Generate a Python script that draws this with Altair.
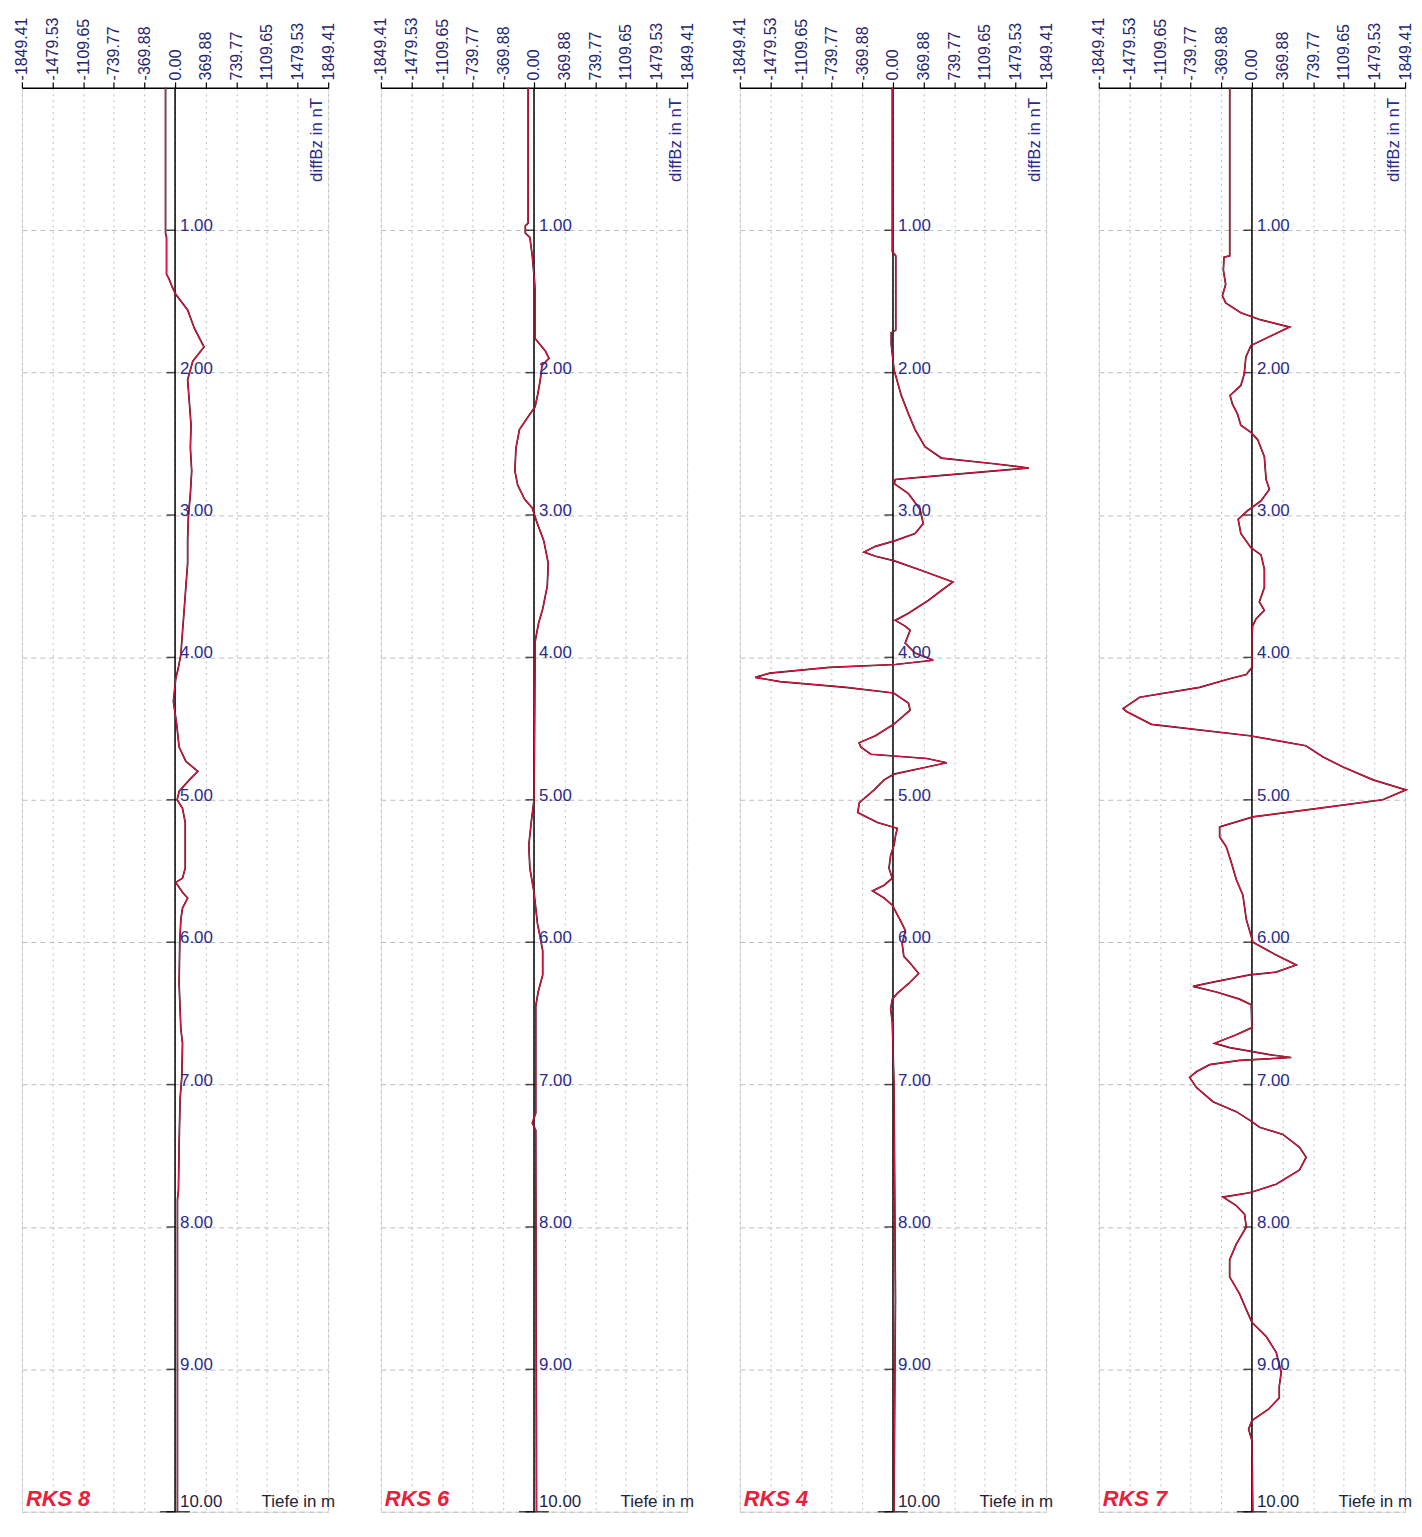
import altair as alt
import pandas as pd

# ---------------- data ----------------
x_ticks = [-1849.41, -1479.53, -1109.65, -739.77, -369.88, 0.0,
           369.88, 739.77, 1109.65, 1479.53, 1849.41]
depth_ticks = [1, 2, 3, 4, 5, 6, 7, 8, 9, 10]
depth_labels = ["1.00", "2.00", "3.00", "4.00", "5.00", "6.00", "7.00", "8.00", "9.00", "10.00"]
panel_names = ["RKS 8", "RKS 6", "RKS 4", "RKS 7"]

rks8_depth = [0, 1.02, 1.05, 1.31, 1.34, 1.40, 1.45, 1.56, 1.69, 1.82, 1.92, 2.05, 2.21, 2.37,
              2.53, 2.69, 2.85, 3.02, 3.18, 3.34, 3.50, 3.66, 3.82, 3.98, 4.08, 4.15, 4.31,
              4.47, 4.63, 4.73, 4.80, 4.86, 4.94, 5.0, 5.06, 5.16, 5.48, 5.55, 5.58, 5.65,
              5.69, 5.76, 5.84, 6.0, 6.29, 6.61, 6.71, 6.94, 7.10, 7.42, 7.74, 7.81, 10.0]
rks8_val = [-115, -115, -103, -103, -74, -33, 8, 152, 234, 350, 214, 152, 173, 193,
            185, 201, 185, 160, 152, 152, 131, 111, 90, 70, 37, 8, -20,
            20, 49, 131, 275, 173, 50, 25, 90, 123, 123, 90, 8, 90,
            152, 90, 70, 57, 49, 70, 90, 82, 61, 49, 41, 29, 29]

rks6_depth = [0, 0.95, 0.97, 1.02, 1.05, 1.18, 1.34, 1.42, 1.76, 1.79, 1.85, 1.90, 1.95, 2.05,
              2.15, 2.24, 2.31, 2.40, 2.53, 2.69, 2.79, 2.89, 2.95, 3.05, 3.18, 3.34, 3.50,
              3.66, 3.76, 3.89, 4.0, 5.0, 5.16, 5.32, 5.48, 5.65, 5.87, 5.97, 6.06, 6.23,
              6.35, 6.45, 7.20, 7.27, 7.32, 10.0]
rks6_val = [-71, -71, -105, -105, -50, -21, 4, 13, 13, 55, 139, 181, 97, 76,
            46, 13, -71, -176, -218, -231, -197, -113, -21, 34, 118, 172, 160,
            105, 55, 13, 13, 0, -34, -63, -50, 0, 42, 76, 105, 105,
            50, 21, 21, -21, 21, 30]

rks4_depth = [0, 1.15, 1.18, 1.70, 1.72, 1.80, 1.98, 2.16, 2.29, 2.40, 2.52, 2.60, 2.64, 2.67,
              2.70, 2.73, 2.75, 2.78, 2.85, 2.96, 3.06, 3.13, 3.18, 3.22, 3.26, 3.29, 3.32,
              3.39, 3.47, 3.53, 3.60, 3.69, 3.74, 3.78, 3.81, 3.90, 3.97, 4.02, 4.05, 4.07,
              4.11, 4.14, 4.17, 4.21, 4.25, 4.32, 4.37, 4.44, 4.47, 4.55, 4.60, 4.63, 4.68,
              4.71, 4.74, 4.77, 4.82, 4.86, 4.93, 5.02, 5.09, 5.16, 5.20, 5.25, 5.32, 5.39,
              5.48, 5.55, 5.60, 5.64, 5.69, 5.74, 5.85, 5.92, 6.01, 6.10, 6.15, 6.22, 6.29,
              6.36, 6.40, 6.47, 6.56, 7.0, 8.5, 9.3, 10.0]
rks4_val = [-8, -8, 34, 34, -21, -21, 13, 100, 187, 267, 386, 585, 1222, 1640,
            1023, 426, 28, 16, 187, 326, 366, 267, 28, -211, -350, -211, 8,
            346, 724, 585, 426, 187, 28, 147, 207, 147, 267, 486, 28, -768,
            -1485, -1664, -1365, -569, 8, 187, 207, 68, 8, -211, -410, -386, -267,
            410, 649, 410, 12, -107, -227, -406, -426, -187, 52, 32, 12, -28,
            -48, -8, -107, -247, -107, -8, 92, 151, 111, 131, 211, 310, 191,
            52, -8, -28, -8, 12, 30, 20, 12]

rks7_depth = [0, 1.18, 1.19, 1.28, 1.38, 1.46, 1.51, 1.58, 1.63, 1.68, 1.73, 1.81, 1.89, 2.01,
              2.09, 2.16, 2.22, 2.29, 2.37, 2.42, 2.47, 2.59, 2.75, 2.82, 2.90, 2.97, 3.03,
              3.13, 3.23, 3.28, 3.38, 3.51, 3.61, 3.67, 3.73, 3.78, 3.86, 4.07, 4.12, 4.15,
              4.21, 4.28, 4.36, 4.38, 4.47, 4.55, 4.62, 4.70, 4.77, 4.86, 4.93, 5.0, 5.06,
              5.12, 5.19, 5.26, 5.33, 5.44, 5.56, 5.67, 5.84, 6.0, 6.09, 6.16, 6.21, 6.23,
              6.28, 6.31, 6.35, 6.40, 6.44, 6.60, 6.65, 6.71, 6.74, 6.79, 6.81, 6.83, 6.86,
              6.91, 6.95, 7.02, 7.12, 7.19, 7.26, 7.30, 7.35, 7.44, 7.51, 7.60, 7.70, 7.76,
              7.79, 7.85, 7.91, 8.0, 8.12, 8.23, 8.35, 8.47, 8.58, 8.67, 8.77, 8.88, 9.02,
              9.12, 9.20, 9.28, 9.36, 9.42, 9.50, 10.0]
rks7_val = [-268, -268, -337, -345, -317, -357, -317, -134, 110, 455, 272, -12, -73, -93,
            -134, -264, -236, -175, -134, -12, 69, 150, 171, 211, 110, -53, -166,
            -134, -12, 110, 150, 150, 89, 150, 49, 8, 0, 0, -68, -269,
            -631, -1355, -1556, -1515, -1214, -28, 651, 860, 1101, 1463, 1861, 1580, 800,
            12, -390, -390, -310, -249, -189, -109, -68, 12, 293, 535, 293, -28,
            -470, -712, -430, -149, -8, 0, -189, -450, -269, 213, 474, -149, -511,
            -671, -752, -671, -470, -189, 0, 92, 374, 575, 655, 575, 293, -28,
            -350, -189, -89, -68, -189, -269, -269, -149, -68, 0, 173, 293, 354,
            330, 330, 200, 0, -40, 0, 10]

series = [(rks8_depth, rks8_val), (rks6_depth, rks6_val),
          (rks4_depth, rks4_val), (rks7_depth, rks7_val)]

# ---------------- styling ----------------
FONT = "Liberation Sans"
BLUE = "#2b2b8c"
GRID = "#bdbdbd"
XMIN, XMAX = x_ticks[0], x_ticks[-1]

x_scale = alt.Scale(domain=[XMIN, XMAX], nice=False, zero=False)
y_scale = alt.Scale(domain=[0, 10], reverse=True, nice=False, zero=False)
x_axis = alt.Axis(orient="top", values=x_ticks,
                  labelExpr="datum.value < 0 ? '-' + format(-datum.value, '.2f') : format(datum.value, '.2f')",
                  labelAngle=270,
                  labelAlign="left", labelBaseline="middle", labelFontSize=16,
                  labelFont=FONT, labelColor="#26266e", labelPadding=2,
                  tickColor="black", tickSize=6, tickWidth=1.2,
                  domainColor="black", domainWidth=1.5,
                  grid=True, gridColor=GRID, gridDash=[2, 4], gridWidth=1,
                  title=None, labelOverlap=False, labelBound=False, labelFlush=False)
y_axis = alt.Axis(values=depth_ticks, grid=True, gridColor=GRID, gridDash=[5, 4],
                  gridWidth=1, labels=False, ticks=False, domain=False, title=None)


def X(field="val"):
    return alt.X(f"{field}:Q", scale=x_scale, axis=x_axis)


def Y(field="depth"):
    return alt.Y(f"{field}:Q", scale=y_scale, axis=y_axis)


def panel(name, depth, vals):
    df = pd.DataFrame({"depth": depth, "val": vals, "i": list(range(len(depth)))})
    ticks_df = pd.DataFrame({"depth": depth_ticks, "val": [0.0] * len(depth_ticks),
                             "lab": depth_labels})
    axis_df = pd.DataFrame({"val": [0.0], "depth": [0.0], "depth2": [10.0]})

    vline = alt.Chart(axis_df).mark_rule(color="black", strokeWidth=1.5).encode(
        x=X(), y=Y(), y2="depth2:Q")
    tks = alt.Chart(ticks_df).mark_tick(orient="horizontal", color="black", size=9,
                                        thickness=1.5, xOffset=-4).encode(x=X(), y=Y())
    bottom = alt.Chart(axis_df).mark_tick(orient="horizontal", color="black", size=30,
                                          thickness=1.5).encode(
        x=X(), y=alt.Y("depth2:Q", scale=y_scale, axis=y_axis))
    labs = alt.Chart(ticks_df[ticks_df.depth < 10]).mark_text(
        align="left", baseline="alphabetic", dx=5, dy=1, fontSize=17, font=FONT,
        color=BLUE).encode(x=X(), y=Y(), text="lab:N")
    lab10 = alt.Chart(ticks_df[ticks_df.depth == 10]).mark_text(
        align="left", baseline="bottom", dx=5, dy=-1, fontSize=17, font=FONT,
        color="#1f2340").encode(x=X(), y=Y(), text="lab:N")

    dark = alt.Chart(df).mark_line(color="#3a0d18", strokeWidth=1.7).encode(
        x=X(), y=Y(), order="i:Q")
    red = alt.Chart(df).mark_line(color="#e3153f", strokeWidth=1.1).encode(
        x=X(), y=Y(), order="i:Q")

    txt_df = pd.DataFrame({"val": [XMAX, XMAX, XMIN], "depth": [0.07, 10.0, 10.0],
                           "t": ["diffBz in nT", "Tiefe in m", name]})
    diff = alt.Chart(txt_df.iloc[[0]]).mark_text(
        angle=270, align="right", baseline="bottom", xOffset=-2, fontSize=17,
        font=FONT, color=BLUE).encode(x=X(), y=Y(), text="t:N")
    tiefe = alt.Chart(txt_df.iloc[[1]]).mark_text(
        align="right", baseline="bottom", xOffset=7, yOffset=-1, fontSize=17,
        font=FONT, color="#222233").encode(x=X(), y=Y(), text="t:N")
    title = alt.Chart(txt_df.iloc[[2]]).mark_text(
        align="left", baseline="bottom", xOffset=4, yOffset=-1, fontSize=22,
        font=FONT, fontWeight="bold", fontStyle="italic", color="#e8203c").encode(
        x=X(), y=Y(), text="t:N")

    return alt.layer(vline, tks, bottom, dark, red, labs, lab10, diff, tiefe, title).properties(
        width=308, height=1432)


panels = [panel(n, d, v) for n, (d, v) in zip(panel_names, series)]
chart = alt.hconcat(*panels, spacing=35).configure_view(stroke=None).configure(
    font=FONT, background="white").properties(
    padding={"left": 5, "right": 0, "top": 4, "bottom": 0})

chart.save("out.html", embed_options={"renderer": "svg", "actions": False})
